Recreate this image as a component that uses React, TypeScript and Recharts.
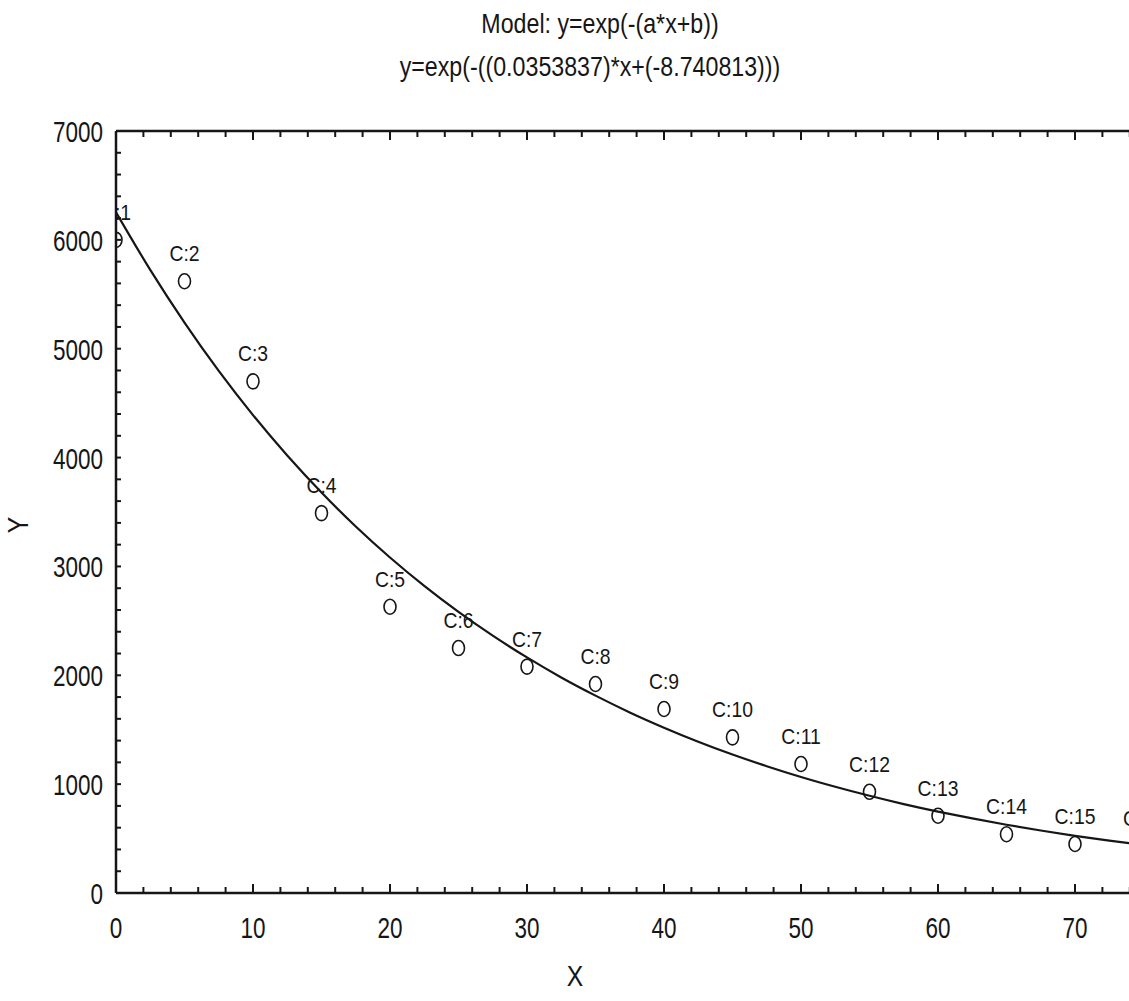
import React from 'react'
import { ComposedChart, Scatter, Line, XAxis, YAxis } from 'recharts'

const caseNames = ['C:1', 'C:2', 'C:3', 'C:4', 'C:5', 'C:6', 'C:7', 'C:8', 'C:9', 'C:10', 'C:11', 'C:12', 'C:13', 'C:14', 'C:15', 'C:16']
const caseX = [0, 5, 10, 15, 20, 25, 30, 35, 40, 45, 50, 55, 60, 65, 70, 75]
const caseY = [6000, 5620, 4700, 3490, 2630, 2250, 2080, 1920, 1690, 1430, 1185, 930, 710, 540, 450, 430]

// fitted curve
const fitX = [0, 2.5, 5, 7.5, 10, 12.5, 15, 17.5, 20, 22.5, 25, 27.5, 30, 32.5, 35, 37.5, 40, 42.5, 45, 47.5, 50, 52.5, 55, 57.5, 60, 62.5, 65, 67.5, 70, 72.5, 75, 77.5, 80]
const fitY = [6254, 5724, 5240, 4796, 4390, 4019, 3679, 3367, 3082, 2821, 2582, 2364, 2164, 1980, 1813, 1659, 1519, 1390, 1272, 1165, 1066, 976, 893, 817, 748, 685, 627, 574, 525, 481, 440, 403, 369]

// labelled ticks (the scan is cut off just past 70)
const xMajor = [0, 10, 20, 30, 40, 50, 60, 70]
const yMajor = [0, 1000, 2000, 3000, 4000, 5000, 6000, 7000]
const xTicks = Array.from({ length: 41 }, (_, i) => i * 2)
const yTicks = Array.from({ length: 36 }, (_, i) => i * 200)

const titleLines = ['Model: y=exp(-(a*x+b))', 'y=exp(-((0.0353837)*x+(-8.740813)))']

const FONT = "'Liberation Sans', Arial, sans-serif"
const INK = '#161616'
const OFF = 8 // tickSize + tickMargin, distance from axis line to tick anchor

const cases = caseNames.map((name, i) => ({ name, x: caseX[i], y: caseY[i] }))
const fit = fitX.map((x, i) => ({ x, y: fitY[i] }))

// condensed look: squeeze regular sans horizontally
const NText = ({ x, y, size, sx = 0.8, anchor = 'middle', rotate = 0, children }: any) => (
  <text
    transform={`translate(${x},${y}) rotate(${rotate}) scale(${sx},1)`}
    textAnchor={anchor}
    fontSize={size}
    fontFamily={FONT}
    fill={INK}
  >
    {children}
  </text>
)

const BottomTick = (props: any) => {
  const { x, y, payload } = props
  const ay = y - OFF
  const major = payload.value % 10 === 0
  return (
    <g>
      <line x1={x} x2={x} y1={ay} y2={ay - (major ? 9 : 6)} stroke={INK} strokeWidth={2} />
      {xMajor.includes(payload.value) && (
        <NText x={x} y={ay + 45} size={30} sx={0.75}>
          {payload.value}
        </NText>
      )}
    </g>
  )
}

const TopTick = (props: any) => {
  const { x, y, payload } = props
  const ay = y + OFF
  const major = payload.value % 10 === 0
  return <line x1={x} x2={x} y1={ay} y2={ay + (major ? 9 : 6)} stroke={INK} strokeWidth={2} />
}

const LeftTick = (props: any) => {
  const { x, y, payload } = props
  const ax = x + OFF
  const major = yMajor.includes(payload.value)
  return (
    <g>
      <line x1={ax} x2={ax + 5} y1={y} y2={y} stroke={INK} strokeWidth={2} />
      {major && (
        <NText x={ax - 13} y={y + 11} size={30} sx={0.75} anchor="end">
          {payload.value}
        </NText>
      )}
    </g>
  )
}

const CasePoint = (props: any) => {
  const { cx, cy, payload } = props
  return (
    <g>
      <ellipse cx={cx} cy={cy} rx={6} ry={7.5} fill="none" stroke={INK} strokeWidth={1.6} />
      <NText x={cx} y={cy - 20} size={22} sx={0.88}>
        {payload.name}
      </NText>
    </g>
  )
}

export default function App() {
  return (
    <div
      style={{
        position: 'absolute',
        left: 0,
        top: 0,
        width: 1129,
        height: 1001,
        overflow: 'hidden',
        background: '#fff',
      }}
    >
      <div style={{ position: 'absolute', left: 0, top: 0 }}>
        <ComposedChart width={1240} height={1001} margin={{ top: 123, right: 28, bottom: 48, left: 8 }}>
          <XAxis
            xAxisId="bottom"
            type="number"
            dataKey="x"
            domain={[0, 80]}
            ticks={xTicks}
            interval={0}
            allowDataOverflow
            height={60}
            tickSize={6}
            tickMargin={2}
            tickLine={false}
            axisLine={{ stroke: INK, strokeWidth: 2.5 }}
            tick={<BottomTick />}
          />
          <XAxis
            xAxisId="top"
            orientation="top"
            type="number"
            dataKey="x"
            domain={[0, 80]}
            ticks={xTicks}
            interval={0}
            allowDataOverflow
            height={8}
            tickSize={6}
            tickMargin={2}
            tickLine={false}
            axisLine={{ stroke: INK, strokeWidth: 2.5 }}
            tick={<TopTick />}
          />
          <YAxis
            yAxisId="left"
            type="number"
            dataKey="y"
            domain={[0, 7000]}
            ticks={yTicks}
            interval={0}
            allowDataOverflow
            width={108}
            tickSize={6}
            tickMargin={2}
            tickLine={false}
            axisLine={{ stroke: INK, strokeWidth: 2.5 }}
            tick={<LeftTick />}
          />
          <Line
            xAxisId="top"
            yAxisId="left"
            data={fit}
            dataKey="y"
            type="monotone"
            stroke={INK}
            strokeWidth={2.2}
            dot={false}
            activeDot={false}
            isAnimationActive={false}
          />
          <Scatter
            xAxisId="bottom"
            yAxisId="left"
            data={cases}
            dataKey="y"
            shape={<CasePoint />}
            isAnimationActive={false}
          />
        </ComposedChart>
      </div>
      <svg
        width={1129}
        height={1001}
        style={{ position: 'absolute', left: 0, top: 0, pointerEvents: 'none' }}
      >
        <NText x={600} y={33} size={27} sx={0.86}>
          {titleLines[0]}
        </NText>
        <NText x={590} y={76} size={27} sx={0.86}>
          {titleLines[1]}
        </NText>
        <NText x={575} y={986} size={29} sx={0.85}>
          X
        </NText>
        <NText x={28} y={525} size={29} sx={0.85} rotate={-90}>
          Y
        </NText>
      </svg>
    </div>
  )
}
